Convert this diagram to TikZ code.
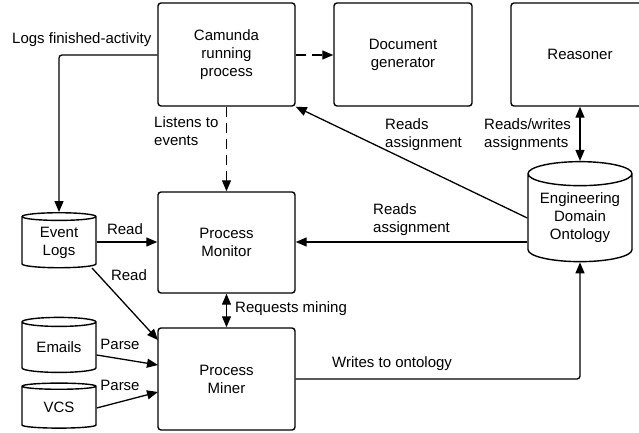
\documentclass[tikz,border=0pt]{standalone}
\usepackage{fontspec}
\setmainfont{Liberation Sans}
\usetikzlibrary{shapes.geometric,arrows.meta}

\tikzset{
  box/.style={draw,line width=1.4pt,rounded corners=3pt,align=center,inner sep=0pt},
  db/.style={draw,line width=1.4pt,cylinder,shape border rotate=90,aspect=0.2,align=center,inner sep=0pt},
  lbl/.style={inner sep=0pt,align=left},
  link/.style={line width=1.3pt,-{Triangle[length=11pt,width=9pt]}},
  twoway/.style={line width=1.3pt,{Triangle[length=11pt,width=9pt]}-{Triangle[length=11pt,width=9pt]}},
  dashlink/.style={link,dash pattern=on 10pt off 6pt}
}

\begin{document}
\begin{tikzpicture}[x=1pt,y=-1pt,font=\fontsize{15}{18}\selectfont]
    \useasboundingbox (0,0) rectangle (639,433);
    \clip (0,0) rectangle (639,433);

    \node[box,minimum width=137pt,minimum height=103pt] (camunda) at (226.5,54.5) {Camunda\\running\\process};
    \node[box,minimum width=138pt,minimum height=103pt] (docgen) at (403,54.5) {Document\\generator};
    \node[box,minimum width=138pt,minimum height=103pt] (reasoner) at (580,54.5) {Reasoner};
    \node[box,minimum width=137pt,minimum height=101pt] (monitor) at (226.5,242.5) {Process\\Monitor};
    \node[box,minimum width=137pt,minimum height=102pt] (miner) at (226.5,379) {Process\\Miner};

    \node[db,minimum width=74pt,minimum height=55pt] (logs) at (59,242.5) {Event\\Logs};
    \node[db,minimum width=74pt,minimum height=55pt] (emails) at (59,347.5) {Emails};
    \node[db,minimum width=74pt,minimum height=45pt] (vcs) at (59,407.5) {VCS};
    \node[db,minimum width=104pt,minimum height=100pt,aspect=0.3] (onto) at (580,218) {Engineering\\Domain\\Ontology};

    \coordinate (bend1) at (59,55);
    \coordinate (bend2) at (580,379);

    \draw[link,rounded corners=3pt] (camunda.west |- 0,55) -- (bend1) -- (logs.top);
    \draw[dashlink] (camunda.east |- 0,55) -- (docgen.west |- 0,55);
    \draw[dashlink] (camunda.south) -- (monitor.north);
    \draw[link] (onto.west |- 0,218) -- (camunda.south east);
    \draw[link] (onto.west |- 0,242) -- (monitor.east |- 0,242);
    \draw[twoway] (reasoner.south) -- (onto.top);
    \draw[link] (logs.east |- 0,242) -- (monitor.west |- 0,242);
    \draw[link] (92,268) -- (158,340);
    \draw[twoway] (monitor.south) -- (miner.north);
    \draw[link] (emails.east |- 0,355) -- (158,365);
    \draw[link] (vcs.east |- 0,408) -- (158,392);
    \draw[link,rounded corners=3pt] (miner.east |- 0,379) -- (bend2) -- (onto.bottom);

    \node[lbl,anchor=west] (lLogs) at (12,40) {Logs finished-activity};
    \node[lbl,anchor=west] (lListen) at (154,131) {Listens to\\events};
    \node[lbl,anchor=west] (lReads1) at (385,135) {Reads\\assignment};
    \node[lbl,anchor=west] (lReads2) at (373,220) {Reads\\assignment};
    \node[lbl,anchor=west] (lRW) at (484,135) {Reads/writes\\assignments};
    \node[lbl] (lRead1) at (125,229) {Read};
    \node[lbl] (lRead2) at (129,275) {Read};
    \node[lbl,anchor=west] (lReq) at (235,309) {Requests mining};
    \node[lbl] (lParse1) at (120,344) {Parse};
    \node[lbl] (lParse2) at (120,385) {Parse};
    \node[lbl,anchor=west] (lWrite) at (332,364) {Writes to ontology};
\end{tikzpicture}
\end{document}
